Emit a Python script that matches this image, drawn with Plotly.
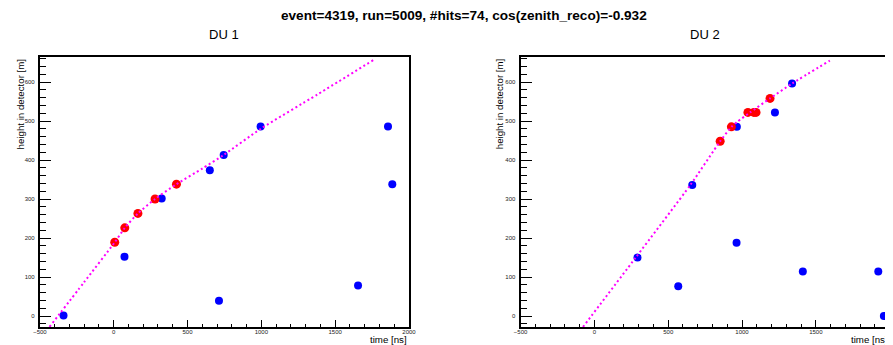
import plotly.graph_objects as go

# The page body has an 8px margin, so the figure is sized to fill the rest of the 893x345 window.
WIN_W, WIN_H, OFF = 893, 345, 8
W, H = WIN_W - OFF, WIN_H - OFF

# ---- DU 1 ----
du1_hit_time = [-340, 73, 325, 651, 713, 745, 995, 1655, 1858, 1887]
du1_hit_height = [1, 152, 301, 374, 39, 413, 486, 78, 486, 338]
du1_trig_time = [7, 75, 164, 280, 425]
du1_trig_height = [189, 226, 263, 300, 338]
du1_fit_time = [-435, -200, 7, 75, 164, 280, 425, 600, 745, 996, 1380, 1758]
du1_fit_height = [-28, 87, 189, 226, 263, 300, 338, 378, 413, 480, 568, 656]

# ---- DU 2 ----
du2_hit_time = [292, 568, 663, 963, 965, 1223, 1339, 1412, 1923, 1961]
du2_hit_height = [150, 76, 336, 188, 485, 522, 596, 114, 114, 0]
du2_trig_time = [852, 928, 1040, 1080, 1095, 1190]
du2_trig_height = [448, 485, 522, 522, 522, 558]
du2_fit_time = [-77, 280, 650, 852, 928, 968, 1055, 1190, 1339, 1595]
du2_fit_height = [-28, 150, 336, 448, 485, 498, 522, 558, 596, 655]

x_ticks = [-500, 0, 500, 1000, 1500, 2000]
y_ticks = [0, 100, 200, 300, 400, 500, 600]
panel_titles = ["DU 1", "DU 2"]
main_title = "event=4319, run=5009, #hits=74, cos(zenith_reco)=-0.932"
x_title = "time [ns]"
y_title = "height in detector [m]"

FONT = "Liberation Sans, Arial, sans-serif"


def px(p):
    # window pixel -> paper fraction
    return (p - OFF) / W


def py(p):
    return 1 - (p - OFF) / H


fig = go.Figure()

panels = [
    (du1_hit_time, du1_hit_height, du1_trig_time, du1_trig_height, du1_fit_time, du1_fit_height, "x", "y"),
    (du2_hit_time, du2_hit_height, du2_trig_time, du2_trig_height, du2_fit_time, du2_fit_height, "x2", "y2"),
]

for ht, hh, tt, th, ft, fh, xa, ya in panels:
    fig.add_trace(go.Scatter(x=ht, y=hh, mode="markers", xaxis=xa, yaxis=ya,
                             marker=dict(color="#0000ff", size=8, line=dict(width=0)),
                             showlegend=False, hoverinfo="skip"))
    fig.add_trace(go.Scatter(x=tt, y=th, mode="markers", xaxis=xa, yaxis=ya,
                             marker=dict(color="#ff0000", size=9, line=dict(width=0)),
                             showlegend=False, hoverinfo="skip"))
    fig.add_trace(go.Scatter(x=ft, y=fh, mode="lines", xaxis=xa, yaxis=ya,
                             line=dict(color="#ff00ff", width=2, dash="2px,2.7px", shape="spline", smoothing=0.6),
                             showlegend=False, hoverinfo="skip"))

# frame geometry (window pixels)
p1_left, p1_right = 33.3, 408.3
p2_left = 521.7
p2_right = p2_left + (p1_right - p1_left)
frame_top, frame_bottom = 57, 327
y_range = [-28.2, 664.1]
p2_end = -500 + (WIN_W - p2_left) / (p1_right - p1_left) * 2500

common_x = dict(showline=True, linecolor="black", linewidth=2, ticks="inside", ticklen=7,
                tickwidth=1, tickcolor="black", tickvals=x_ticks, showgrid=False, zeroline=False,
                tickfont=dict(family=FONT, size=6, color="#222"), ticklabelstandoff=-2,
                minor=dict(dtick=100, tick0=0, ticks="inside", ticklen=3.5, tickwidth=1, tickcolor="black", showgrid=False),
                fixedrange=True)
common_y = dict(showline=True, linecolor="black", linewidth=2, ticks="inside", ticklen=11,
                tickwidth=1, tickcolor="black", tickvals=y_ticks, showgrid=False, zeroline=False,
                tickfont=dict(family=FONT, size=6, color="#222"), range=y_range, ticklabelstandoff=2,
                minor=dict(dtick=20, tick0=0, ticks="inside", ticklen=6, tickwidth=1, tickcolor="black", showgrid=False),
                domain=[py(frame_bottom), py(frame_top)], fixedrange=True)

fig.update_layout(
    width=W, height=H, autosize=False,
    margin=dict(l=0, r=0, t=0, b=0, pad=0),
    paper_bgcolor="white", plot_bgcolor="white",
    font=dict(family=FONT, color="black"),
    xaxis=dict(common_x, domain=[px(p1_left), px(p1_right)], range=[-500, 2000], mirror=True, anchor="y"),
    yaxis=dict(common_y, mirror=True, anchor="x"),
    xaxis2=dict(common_x, domain=[px(p2_left), 1], range=[-500, p2_end], mirror=True, anchor="y2"),
    yaxis2=dict(common_y, mirror=False, anchor="x2"),
)

ann = []
ann.append(dict(text="<b>" + main_title + "</b>", x=px(464.5), y=py(15), xref="paper", yref="paper",
                xanchor="center", yanchor="middle", showarrow=False, font=dict(family=FONT, size=13.6, color="black")))
for title, cx in zip(panel_titles, [(p1_left + p1_right) / 2, (p2_left + p2_right) / 2]):
    ann.append(dict(text=title, x=px(cx), y=py(35), xref="paper", yref="paper",
                    xanchor="center", yanchor="middle", showarrow=False, font=dict(family=FONT, size=13, color="black")))
for right in [p1_right, p2_right]:
    ann.append(dict(text=x_title, x=px(right), y=py(339.5), xref="paper", yref="paper",
                    xanchor="right", yanchor="middle", showarrow=False, font=dict(family=FONT, size=9.7, color="black")))
for cx in [13.5, 500]:
    ann.append(dict(text=y_title, x=px(cx), y=py(frame_top), xref="paper", yref="paper", textangle=-90,
                    xanchor="center", yanchor="top", showarrow=False, font=dict(family=FONT, size=9.7, color="black")))
fig.update_layout(annotations=ann)

fig.write_html("out.html")
